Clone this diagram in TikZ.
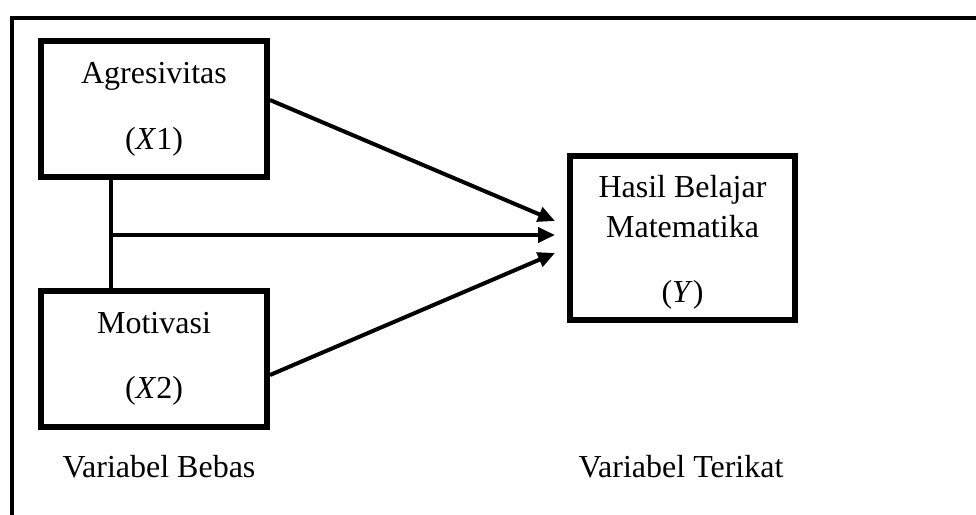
\documentclass[tikz,border=0pt]{standalone}
\usepackage{fontspec}
\setmainfont{Liberation Serif}
\usetikzlibrary{arrows.meta}
\begin{document}
\begin{tikzpicture}[x=1pt,y=-1pt,
  varbox/.style={draw=black,line width=6pt,fill=white,inner sep=0pt},
  txt/.style={anchor=base,inner sep=0pt,font=\fontsize{32}{38}\selectfont},
  arr/.style={line width=4pt,-{Triangle[length=17pt,width=15pt]}},
  link/.style={line width=3.5pt}]
\useasboundingbox (0,0) rectangle (976,514);
\clip (0,0) rectangle (976,514);
\fill[white] (0,0) rectangle (976,514);
% outer frame (only top and left visible)
\draw[line width=4pt] (12,530) -- (12,18) -- (990,18);
% boxes
\node[varbox,minimum width=226pt,minimum height=136pt] (X1) at (154,109) {};
\node[varbox,minimum width=226pt,minimum height=136pt] (X2) at (154,359) {};
\node[varbox,minimum width=225pt,minimum height=164pt] (Y) at (682.5,238) {};
% texts
\node[txt] (t1a) at (154,83) {Agresivitas};
\node[txt] (t1b) at (154,149) {(\textit{X}1)};
\node[txt] (t2a) at (154,333) {Motivasi};
\node[txt] (t2b) at (154,398) {(\textit{X}2)};
\node[txt] (tya) at (682.5,197) {Hasil Belajar};
\node[txt] (tyb) at (682.5,237) {Matematika};
\node[txt] (tyc) at (682.5,302) {(\textit{Y})};
\node[txt] (lb) at (159,477) {Variabel Bebas};
\node[txt] (lt) at (681,477) {Variabel Terikat};
% connectors
\coordinate (j) at (111,235);
\coordinate (tip1) at (555,221);
\coordinate (tip2) at (555,235);
\coordinate (tip3) at (555,253);
\draw[link] (X1.south -| j) -- (X2.north -| j);
\draw[arr] ([yshift=9pt]X1.east) -- (tip1);
\draw[arr] (j) -- (tip2);
\draw[arr] ([yshift=-16pt]X2.east) -- (tip3);
\end{tikzpicture}
\end{document}
